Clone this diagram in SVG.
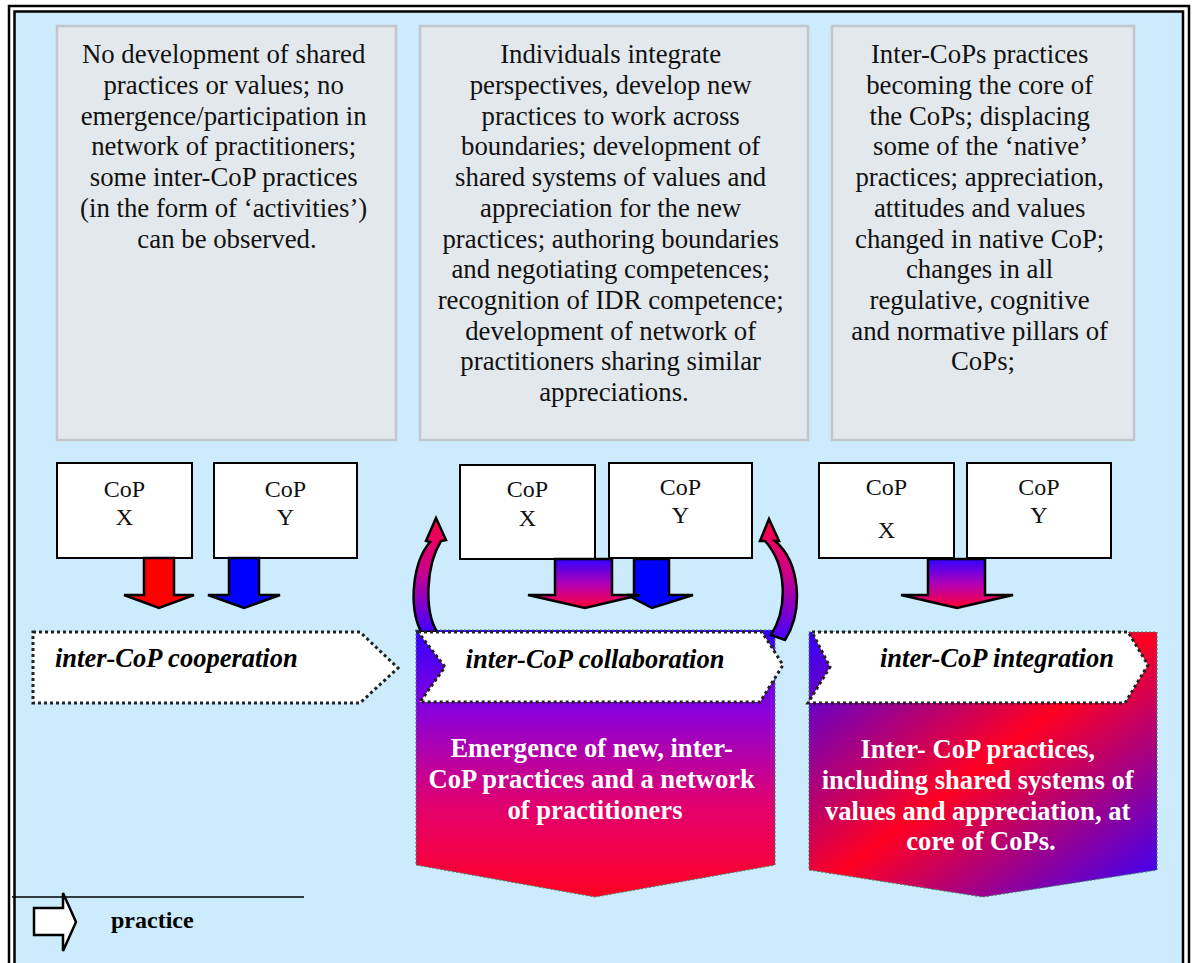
<svg xmlns="http://www.w3.org/2000/svg" width="1194" height="963" viewBox="0 0 1194 963">
  <style>
    .body { font-family: "Liberation Serif", "Times New Roman", serif; font-size: 26.8px; fill: #111; text-anchor: middle; }
    .cop { font-family: "Liberation Serif", "Times New Roman", serif; font-size: 24px; fill: #111; text-anchor: middle; }
    .band { font-family: "Liberation Serif", "Times New Roman", serif; font-size: 26.5px; font-weight: bold; font-style: italic; fill: #000; }
    .out { font-family: "Liberation Serif", "Times New Roman", serif; font-size: 26.6px; font-weight: bold; fill: #fff; text-anchor: middle; }
    .legend { font-family: "Liberation Serif", "Times New Roman", serif; font-size: 24px; font-weight: bold; fill: #000; }
    .desc { fill: #e3e8ec; stroke: #c2c6ca; stroke-width: 2.5; }
    .box { fill: #fff; stroke: #000; stroke-width: 2; }
    .arrow { stroke: #000; stroke-width: 2.5; stroke-linejoin: miter; }
    .tag { fill: #fff; stroke: #222; stroke-width: 3; stroke-dasharray: 3 3; }
    .result { stroke: #3f8a6a; stroke-width: 1.2; stroke-dasharray: 2 2; }
  </style>
  <defs>
    <linearGradient id="gDown" x1="0" y1="0" x2="0" y2="1">
      <stop offset="0" stop-color="#3300ff"/>
      <stop offset="0.5" stop-color="#b000b8"/>
      <stop offset="1" stop-color="#ff0033"/>
    </linearGradient>
    <linearGradient id="gCurve" x1="0" y1="0" x2="0" y2="1">
      <stop offset="0" stop-color="#ff0044"/>
      <stop offset="0.45" stop-color="#cc0088"/>
      <stop offset="1" stop-color="#4400ff"/>
    </linearGradient>
    <linearGradient id="gCollab" x1="0" y1="0" x2="0" y2="1">
      <stop offset="0" stop-color="#3300ff"/>
      <stop offset="0.3" stop-color="#8a00dc"/>
      <stop offset="0.65" stop-color="#e00070"/>
      <stop offset="1" stop-color="#ff0022"/>
    </linearGradient>
    <linearGradient id="gInteg" x1="0" y1="0" x2="1" y2="1">
      <stop offset="0" stop-color="#3300ff"/>
      <stop offset="0.5" stop-color="#ff0022"/>
      <stop offset="1" stop-color="#3300ff"/>
    </linearGradient>
  </defs>

  <!-- page and double frame -->
  <rect x="0" y="0" width="1194" height="963" fill="#fff"/>
  <rect x="9" y="6" width="1180" height="990" fill="none" stroke="#000" stroke-width="2.5"/>
  <rect x="14.5" y="11.5" width="1168.5" height="990" fill="#ccebfc" stroke="#000" stroke-width="2.5"/>

  <!-- description panels -->
  <g id="desc-cooperation">
    <rect class="desc" x="57" y="26" width="339" height="414"/>
    <text class="body" x="227">
      <tspan x="227" y="63">No development of shared</tspan>
      <tspan x="227" y="94">practices or values; no</tspan>
      <tspan x="227" y="125">emergence/participation in</tspan>
      <tspan x="227" y="155">network of practitioners;</tspan>
      <tspan x="227" y="186">some inter-CoP practices</tspan>
      <tspan x="227" y="217">(in the form of ‘activities’)</tspan>
      <tspan x="227" y="248">can be observed.</tspan>
    </text>
  </g>
  <g id="desc-collaboration">
    <rect class="desc" x="420" y="26" width="388" height="414"/>
    <text class="body" x="614">
      <tspan x="614" y="63">Individuals integrate</tspan>
      <tspan x="614" y="94">perspectives, develop new</tspan>
      <tspan x="614" y="125">practices to work across</tspan>
      <tspan x="614" y="155">boundaries; development of</tspan>
      <tspan x="614" y="186">shared systems of values and</tspan>
      <tspan x="614" y="217">appreciation for the new</tspan>
      <tspan x="614" y="248">practices; authoring boundaries</tspan>
      <tspan x="614" y="278">and negotiating competences;</tspan>
      <tspan x="614" y="309">recognition of IDR competence;</tspan>
      <tspan x="614" y="340">development of network of</tspan>
      <tspan x="614" y="370">practitioners sharing similar</tspan>
      <tspan x="614" y="401">appreciations.</tspan>
    </text>
  </g>
  <g id="desc-integration">
    <rect class="desc" x="832" y="26" width="302" height="414"/>
    <text class="body" x="983">
      <tspan x="983" y="63">Inter-CoPs practices</tspan>
      <tspan x="983" y="94">becoming the core of</tspan>
      <tspan x="983" y="125">the CoPs; displacing</tspan>
      <tspan x="983" y="155">some of the ‘native’</tspan>
      <tspan x="983" y="186">practices; appreciation,</tspan>
      <tspan x="983" y="217">attitudes and values</tspan>
      <tspan x="983" y="248">changed in native CoP;</tspan>
      <tspan x="983" y="278">changes in all</tspan>
      <tspan x="983" y="309">regulative, cognitive</tspan>
      <tspan x="983" y="340">and normative pillars of</tspan>
      <tspan x="983" y="370">CoPs;</tspan>
    </text>
  </g>

  <!-- outcome shapes -->
  <g id="result-collaboration">
    <polygon class="result" fill="url(#gCollab)" points="416,630 775,630 775,865 595,897 416,865"/>
    <text class="out">
      <tspan x="595" y="757">Emergence of new, inter-</tspan>
      <tspan x="595" y="788">CoP practices and a network</tspan>
      <tspan x="595" y="819">of practitioners</tspan>
    </text>
  </g>
  <g id="result-integration">
    <polygon class="result" fill="url(#gInteg)" points="809,632 1157,632 1157,870 983,897 809,870"/>
    <text class="out">
      <tspan x="981" y="758">Inter- CoP practices,</tspan>
      <tspan x="981" y="789">including shared systems of</tspan>
      <tspan x="981" y="820">values and appreciation, at</tspan>
      <tspan x="981" y="850">core of CoPs.</tspan>
    </text>
  </g>

  <!-- CoP boxes -->
  <g id="cop-x-1"><rect class="box" x="57" y="463" width="135" height="95"/><text class="cop"><tspan x="124.5" y="497">CoP</tspan><tspan x="124.5" y="525">X</tspan></text></g>
  <g id="cop-y-1"><rect class="box" x="214" y="463" width="143" height="95"/><text class="cop"><tspan x="285.5" y="497">CoP</tspan><tspan x="285.5" y="525">Y</tspan></text></g>
  <g id="cop-x-2"><rect class="box" x="460" y="465" width="135" height="94"/><text class="cop"><tspan x="527.5" y="497">CoP</tspan><tspan x="527.5" y="526">X</tspan></text></g>
  <g id="cop-y-2"><rect class="box" x="609" y="463" width="143" height="95"/><text class="cop"><tspan x="680.5" y="495">CoP</tspan><tspan x="680.5" y="523">Y</tspan></text></g>
  <g id="cop-x-3"><rect class="box" x="819" y="463" width="135" height="95"/><text class="cop"><tspan x="886.5" y="495">CoP</tspan><tspan x="886.5" y="538">X</tspan></text></g>
  <g id="cop-y-3"><rect class="box" x="967" y="463" width="144" height="95"/><text class="cop"><tspan x="1039" y="495">CoP</tspan><tspan x="1039" y="523">Y</tspan></text></g>

  <!-- connectors: practice arrows -->
  <g id="connectors">
    <polygon class="arrow" fill="#ff0000" points="144,558 174,558 174,595 194,595 159,608 124,595 144,595"/>
    <polygon class="arrow" fill="#0000ff" points="229,558 259,558 259,595 280,595 244,608 208,595 229,595"/>
    <polygon class="arrow" fill="#0000ff" points="634,559 669,559 669,595 693,595 652,608 627,595 634,595"/>
    <polygon class="arrow" fill="url(#gDown)" points="555,559 612,559 612,595 640,595 585,608 528,595 555,595"/>
    <polygon class="arrow" fill="url(#gDown)" points="928,559 985,559 985,595 1013,595 957,608 901,595 928,595"/>
    <!-- curved feedback arrows -->
    <path class="arrow" stroke-width="2" fill="url(#gCurve)" d="M436,518 L446,540 L441,541 C426,565 424,610 437,632 L421,632 C408,605 413,562 430,542 L426,541 Z"/>
    <path class="arrow" stroke-width="2" fill="url(#gCurve)" d="M769,519 L779,541 L775,541 C800,562 804,610 785,640 L771,635 C788,608 787,565 765,541 L760,541 Z"/>
  </g>

  <!-- stage tags -->
  <g id="tag-cooperation">
    <polygon class="tag" stroke="#000" points="33,632 360,632 398,668 360,703 33,703"/>
    <text class="band" x="55" y="667">inter-CoP cooperation</text>
  </g>
  <g id="tag-collaboration">
    <polygon class="tag" stroke="#333" points="418,632 762,632 783,665 760,702 420,702 445,667"/>
    <text class="band" x="595" y="668" text-anchor="middle">inter-CoP collaboration</text>
  </g>
  <g id="tag-integration">
    <polygon class="tag" stroke="#000" points="812,632 1128,632 1148,665 1125,703 808,703 830,667"/>
    <text class="band" x="880" y="667">inter-CoP integration</text>
  </g>

  <!-- legend -->
  <g id="legend">
    <line x1="12" y1="897" x2="304" y2="897" stroke="#000" stroke-width="1.5"/>
    <polygon class="arrow" fill="#fff" points="34,908 63,908 63,893 76,922 63,951 63,935 34,935"/>
    <text class="legend" x="111" y="928">practice</text>
  </g>
</svg>
